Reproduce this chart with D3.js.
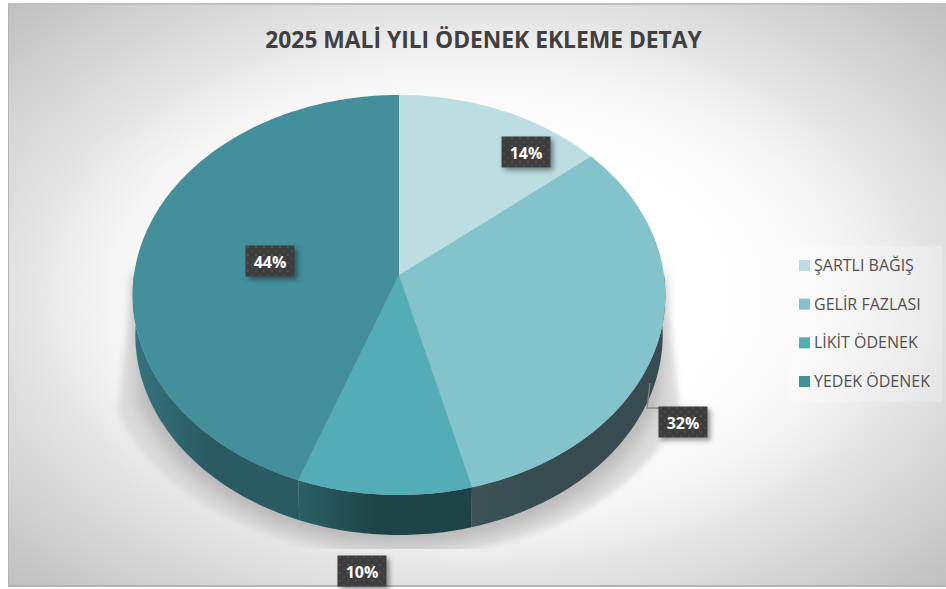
<!DOCTYPE html>
<html>
<head>
<meta charset="utf-8">
<script src="https://cdn.jsdelivr.net/npm/d3@7"></script>
<style>
body { margin: 0; background: #fff; }
text { font-family: "Open Sans", sans-serif; }
</style>
</head>
<body>
<script>
const categories = ["ŞARTLI BAĞIŞ", "GELİR FAZLASI", "LİKİT ÖDENEK", "YEDEK ÖDENEK"];
const shares = [14, 32, 9.6, 44.4];
const topColors = ["#bcdde2", "#82c3cc", "#52adb7", "#438f9c"];
const wallLight = ["#bcdde2", "#3c5257", "#2a6066", "#35747e"];
const wallDark = ["#bcdde2", "#374b50", "#1f4447", "#2a5a62"];
const title = "2025 MALİ YILI ÖDENEK EKLEME DETAY";

const width = 946, height = 589;
const svg = d3.select("body").append("svg").attr("width", width).attr("height", height).style("display", "block");
const defs = svg.append("defs");

// background gradient follows the chart box, so it is an ellipse
const bg = defs.append("radialGradient").attr("id", "bg")
    .attr("cx", "50%").attr("cy", "50%").attr("r", "70.7%");
bg.append("stop").attr("offset", 0.38).attr("stop-color", "#ffffff");
bg.append("stop").attr("offset", 0.55).attr("stop-color", "#f6f6f6");
bg.append("stop").attr("offset", 0.7).attr("stop-color", "#e2e2e2");
bg.append("stop").attr("offset", 1).attr("stop-color", "#bfbfbf");

const blurOuter = defs.append("filter").attr("id", "blurOuter").attr("x", "-20%").attr("y", "-20%").attr("width", "140%").attr("height", "140%");
blurOuter.append("feGaussianBlur").attr("stdDeviation", 3);
const blurInner = defs.append("filter").attr("id", "blurInner").attr("x", "-20%").attr("y", "-20%").attr("width", "140%").attr("height", "140%");
blurInner.append("feGaussianBlur").attr("stdDeviation", 8);
const labelShadow = defs.append("filter").attr("id", "labelShadow").attr("x", "-30%").attr("y", "-30%").attr("width", "170%").attr("height", "190%");
labelShadow.append("feDropShadow").attr("dx", 3).attr("dy", 3).attr("stdDeviation", 2.5).attr("flood-color", "#000").attr("flood-opacity", 0.4);

const dots = defs.append("pattern").attr("id", "dots").attr("patternUnits", "userSpaceOnUse").attr("width", 8).attr("height", 8);
dots.append("rect").attr("width", 8).attr("height", 8).attr("fill", "#3c3c3c");
dots.append("circle").attr("cx", 2).attr("cy", 2).attr("r", 1).attr("fill", "#565656");
dots.append("circle").attr("cx", 6).attr("cy", 6).attr("r", 1).attr("fill", "#4c4c4c");

svg.append("rect").attr("x", 8).attr("y", 3).attr("width", width - 8).attr("height", 584)
    .attr("fill", "url(#bg)");
svg.append("line").attr("x1", 8.5).attr("x2", 8.5).attr("y1", 3).attr("y2", 587).attr("stroke", "#b4b4b4");
svg.append("line").attr("x1", 8).attr("x2", width).attr("y1", 4).attr("y2", 4).attr("stroke", "#c0c0c0").attr("stroke-width", 2);
svg.append("line").attr("x1", 8).attr("x2", width).attr("y1", 586).attr("y2", 586).attr("stroke", "#b4b4b4").attr("stroke-width", 2);

svg.append("text").attr("x", 483.5).attr("y", 48).attr("text-anchor", "middle")
    .attr("font-size", 22.8).attr("font-weight", 700).attr("fill", "#404040").text(title);

// perspective projection of the pie's unit circle
const cx = 399, cy = 275, rx = 265, ry = 198, tilt = -0.1, depth = 40;
const pieLayout = d3.pie().sort(null).value(d => d);
const arcs = pieLayout(shares);

function project(a, dy = 0, k = 1) {
    const u = Math.sin(a), v = -Math.cos(a), s = 1 + tilt * v;
    return [cx + rx * k * u / s, cy + ry * v / s + dy];
}
function rim(a0, a1, dy = 0, k = 1) {
    const n = Math.max(2, Math.ceil((a1 - a0) * 60));
    return d3.range(n + 1).map(i => project(a0 + (a1 - a0) * i / n, dy, k));
}
const line = d3.line();

// floor shadow, cut off flat under the pie
const chartClip = defs.append("clipPath").attr("id", "chartClip");
chartClip.append("rect").attr("x", 8).attr("y", 3).attr("width", width).attr("height", 546);
function shadowShape(dy, k) {
    return [project(Math.PI * 0.5)]
        .concat(rim(Math.PI * 0.62, Math.PI * 1.38, dy, k))
        .concat([project(Math.PI * 1.5)]);
}
const shadow = svg.append("g").attr("clip-path", "url(#chartClip)");
shadow.append("path").attr("d", line(shadowShape(60, 1.1)) + "Z")
    .attr("fill", "#d6d6d6").attr("opacity", 0.8).attr("filter", "url(#blurOuter)");
shadow.append("path").attr("d", line(shadowShape(50, 1.02)) + "Z")
    .attr("fill", "#b0b0b0").attr("opacity", 0.8).attr("filter", "url(#blurInner)");

// side walls, front half of the circle only
const wallStart = Math.PI * 0.5, wallEnd = Math.PI * 1.5;
const walls = svg.append("g");
arcs.forEach((d, i) => {
    const a0 = Math.max(d.startAngle, wallStart), a1 = Math.min(d.endAngle, wallEnd);
    if (a1 <= a0) return;
    const upper = rim(a0, a1), lower = rim(a0, a1, depth, 0.99).reverse();
    const gradId = "wall" + i;
    const p0 = project(a0), p1 = project(a1);
    const g = defs.append("linearGradient").attr("id", gradId).attr("gradientUnits", "userSpaceOnUse")
        .attr("x1", p1[0]).attr("x2", p0[0]).attr("y1", 0).attr("y2", 0);
    g.append("stop").attr("offset", 0).attr("stop-color", wallLight[i]);
    g.append("stop").attr("offset", 0.45).attr("stop-color", wallDark[i]);
    g.append("stop").attr("offset", 1).attr("stop-color", wallDark[i]);
    walls.append("path").attr("d", line(upper.concat(lower)) + "Z").attr("fill", `url(#${gradId})`);
});

// top face
const faces = svg.append("g");
arcs.forEach((d, i) => {
    const pts = [[cx, cy]].concat(rim(d.startAngle, d.endAngle));
    faces.append("path").attr("d", line(pts) + "Z").attr("fill", topColors[i]);
});

// leader line to the 32% label
svg.append("path").attr("d", "M650,383L647,408H660").attr("fill", "none").attr("stroke", "#858585").attr("stroke-width", 1.3);

// data labels
const labelBoxes = [[526, 152], [683, 422], [362, 571], [270, 261]];
const labelGroup = svg.append("g").selectAll("g").data(arcs).join("g")
    .attr("transform", (d, i) => `translate(${labelBoxes[i]})`);
labelGroup.append("rect").attr("x", -24.5).attr("y", -15.5).attr("width", 49).attr("height", 31)
    .attr("fill", "url(#dots)").attr("filter", "url(#labelShadow)");
labelGroup.append("text").attr("text-anchor", "middle").attr("y", 6.5)
    .attr("font-size", 16).attr("font-weight", 700).attr("fill", "#fff")
    .text(d => d3.format(".0f")(d.data) + "%");

// legend
svg.append("rect").attr("x", 789).attr("y", 246).attr("width", 153).attr("height", 156).attr("fill", "#fff").attr("opacity", 0.25);
const legendY = d3.scalePoint().domain(categories).range([265, 381]);
const legend = svg.append("g").selectAll("g").data(categories).join("g")
    .attr("transform", d => `translate(799,${legendY(d)})`);
legend.append("rect").attr("y", -5).attr("width", 11).attr("height", 11).attr("fill", (d, i) => topColors[i]);
legend.append("text").attr("x", 15).attr("y", 6).attr("font-size", 16).attr("fill", "#505050").text(d => d);
</script>
</body>
</html>
